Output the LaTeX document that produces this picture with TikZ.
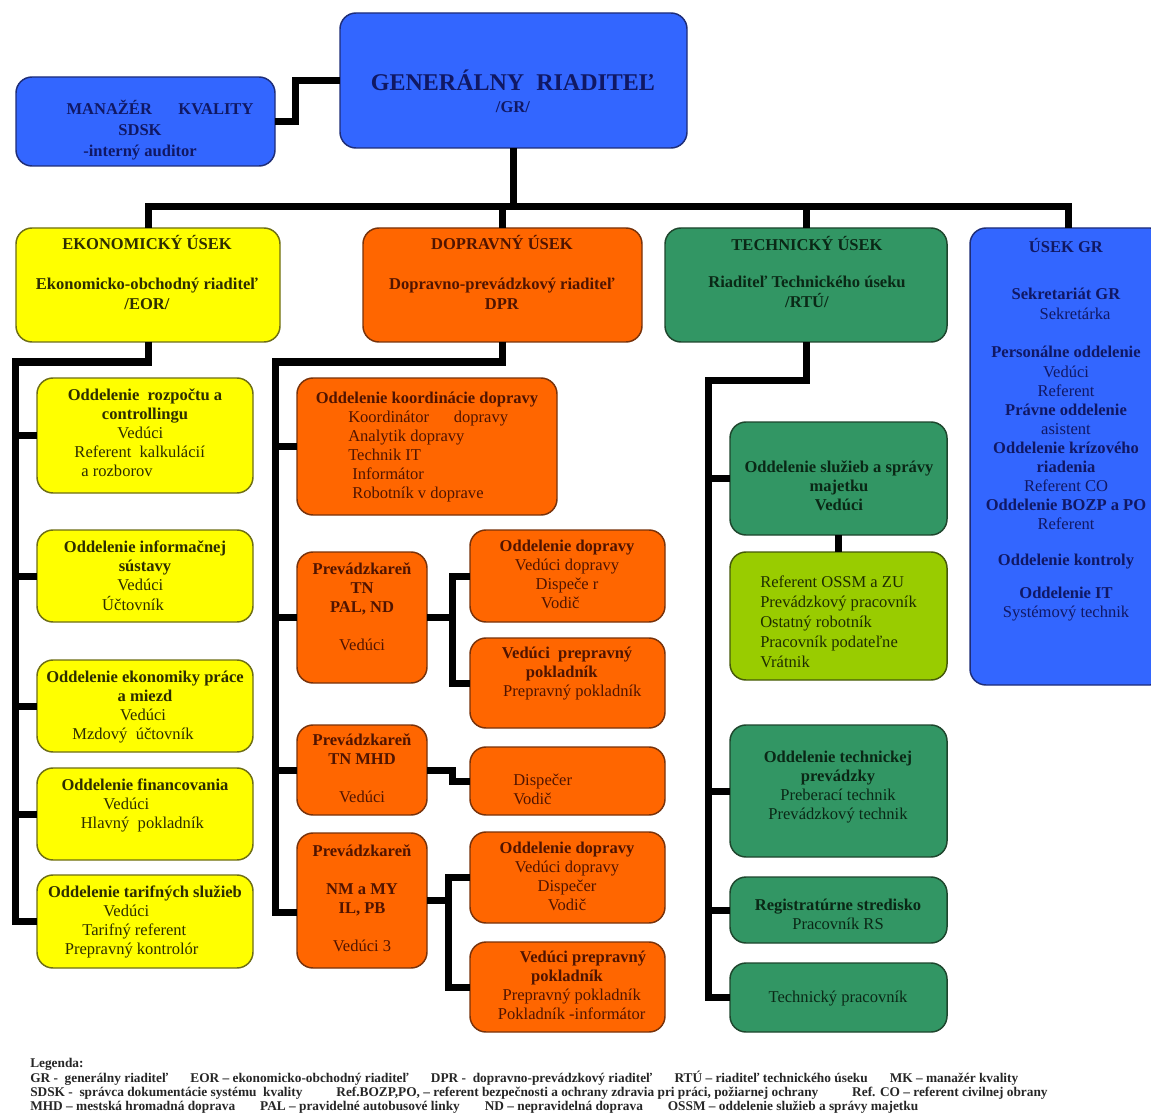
\documentclass[tikz,border=0pt]{standalone}
\usepackage{fontspec}
\setmainfont{Liberation Serif}
\usetikzlibrary{fit,calc}
\definecolor{cblue}{RGB}{51,102,255}
\definecolor{corange}{RGB}{255,102,0}
\definecolor{cgreen}{RGB}{50,150,100}
\definecolor{cyellow}{RGB}{255,255,0}
\definecolor{clime}{RGB}{153,204,0}
\definecolor{dblue}{RGB}{30,45,120}
\definecolor{dorange}{RGB}{120,50,10}
\definecolor{dgreen}{RGB}{30,70,45}
\definecolor{dyellow}{RGB}{110,110,20}
\definecolor{dlime}{RGB}{70,90,10}
\definecolor{tblue}{RGB}{16,24,100}
\definecolor{tora}{RGB}{80,20,0}
\definecolor{tgrn}{RGB}{10,40,22}
\definecolor{tyel}{RGB}{45,45,0}
\definecolor{tlime}{RGB}{30,45,0}
\newcommand\boxfont{\fontsize{12.4}{14.3}\selectfont}
\newcommand\legfont{\fontsize{10}{12}\selectfont\bfseries}
\newcommand\mlines[1]{\begin{tabular}[t]{@{}c@{}}#1\end{tabular}}
\newcommand\llines[1]{\begin{tabular}[t]{@{}l@{}}#1\end{tabular}}
\begin{document}
\begin{tikzpicture}[x=0.75pt,y=-0.75pt,
  conn/.style={line width=5.25pt, black, line join=miter},
  box/.style={rounded corners=12pt, line width=1.1pt, inner sep=0pt, outer sep=0pt},
  bluebox/.style={box, fill=cblue, draw=dblue},
  orabox/.style={box, fill=corange, draw=dorange},
  grnbox/.style={box, fill=cgreen, draw=dgreen},
  yelbox/.style={box, fill=cyellow, draw=dyellow},
  limebox/.style={box, fill=clime, draw=dlime},
  txt/.style={inner sep=0pt, anchor=base, font=\boxfont},
  ltxt/.style={txt, anchor=base west}]
\useasboundingbox (0,0) rectangle (1151,1119);
\fill[white] (0,0) rectangle (1151,1119);

% ---------- boxes ----------
\node[bluebox, fit={(16,77) (275,166)}] (mk) {};
\node[bluebox, fit={(340,13) (687,148)}] (gr) {};
\node[yelbox, fit={(16,228) (280,342)}] (eko) {};
\node[orabox, fit={(363,228) (642,342)}] (dop) {};
\node[grnbox, fit={(665,228) (947,342)}] (tech) {};
\node[bluebox, fit={(970,228) (1166,685)}] (usek) {};

\node[yelbox, fit={(37,378) (253,493)}] (e1) {};
\node[yelbox, fit={(37,530) (253,622)}] (e2) {};
\node[yelbox, fit={(37,660) (253,752)}] (e3) {};
\node[yelbox, fit={(37,768) (253,860)}] (e4) {};
\node[yelbox, fit={(37,875) (253,968)}] (e5) {};

\node[orabox, fit={(297,378) (557,515)}] (d1) {};
\node[orabox, fit={(297,552) (427,683)}] (d2) {};
\node[orabox, fit={(470,530) (665,622)}] (d2a) {};
\node[orabox, fit={(470,638) (665,728)}] (d2b) {};
\node[orabox, fit={(297,725) (427,815)}] (d3) {};
\node[orabox, fit={(470,747) (665,815)}] (d3a) {};
\node[orabox, fit={(297,833) (427,968)}] (d4) {};
\node[orabox, fit={(470,832) (665,923)}] (d4a) {};
\node[orabox, fit={(470,942) (665,1032)}] (d4b) {};

\node[grnbox, fit={(730,422) (947,535)}] (t1) {};
\node[limebox, fit={(730,552) (947,680)}] (t1b) {};
\node[grnbox, fit={(730,725) (947,857)}] (t2) {};
\node[grnbox, fit={(730,877) (947,943)}] (t3) {};
\node[grnbox, fit={(730,963) (947,1032)}] (t4) {};

% ---------- connectors ----------
\coordinate (bus) at (0,207);
\draw[conn] (eko.north) -- (eko.north |- bus) -- (usek.north |- bus) -- (usek.north);
\draw[conn] (gr.south) -- (gr.south |- bus);
\draw[conn] (dop.north) -- (dop.north |- bus);
\draw[conn] (tech.north) -- (tech.north |- bus);
\draw[conn] (mk.east) -- ++(20,0) |- (gr.west);

\coordinate (ekoL) at (15,362);
\draw[conn] (eko.south) |- (ekoL) |- (e5.west);
\foreach \n in {e1,e2,e3,e4} \draw[conn] (ekoL |- \n.west) -- (\n.west);

\coordinate (dopL) at (275,362);
\draw[conn] (dop.south) |- (dopL) |- ($(d4.west)+(0,12)$);
\foreach \n in {d1,d2,d3} \draw[conn] (dopL |- \n.west) -- (\n.west);
\draw[conn] (d2.east) -- ++(25,0) coordinate (d2x);
\draw[conn] (d2a.west) -| (d2x) |- (d2b.west);
\draw[conn] (d3.east) -- ++(25,0) |- (d3a.west);
\draw[conn] (d4.east) -- ++(21,0) coordinate (d4x);
\draw[conn] (d4a.west) -| (d4x) |- (d4b.west);

\coordinate (techL) at (708,380);
\draw[conn] (tech.south) |- (techL) |- (t4.west);
\foreach \n in {t1,t2,t3} \draw[conn] (techL |- \n.west) -- (\n.west);
\draw[conn] (t1.south) -- (t1b.north);

% ---------- texts ----------
\node[txt, font=\fontsize{12.4}{15.4}\selectfont, text=tblue] (mkt) at (140,115)
  {\mlines{\hspace*{30pt}\textbf{MANAŽÉR\hspace{1.6em}KVALITY}\\ \textbf{SDSK}\\ \textbf{-interný auditor}}};
\node[txt, font=\fontsize{18}{21}\selectfont\bfseries, text=tblue] (grt) at (513,91) {GENERÁLNY\ \ RIADITEĽ};
\node[txt, text=tblue] (grt2) at (513,113) {\textbf{/GR/}};

\node[txt, text=tyel] (ekot1) at (147,250) {\textbf{EKONOMICKÝ ÚSEK}};
\node[txt, text=tyel] (ekot2) at (147,290) {\mlines{\textbf{Ekonomicko-obchodný riaditeľ}\\ \textbf{/EOR/}}};
\node[txt, text=tora] (dopt1) at (502,250) {\textbf{DOPRAVNÝ ÚSEK}};
\node[txt, text=tora] (dopt2) at (502,290) {\mlines{\textbf{Dopravno-prevádzkový riaditeľ}\\ \textbf{DPR}}};
\node[txt, text=tgrn] (techt1) at (807,251) {\textbf{TECHNICKÝ ÚSEK}};
\node[txt, text=tgrn] (techt2) at (807,288) {\mlines{\textbf{Riaditeľ Technického úseku}\\ \textbf{/RTÚ/}}};

\node[txt, text=tblue] (u1) at (1066,253) {\textbf{ÚSEK GR}};
\node[txt, text=tblue] (u2) at (1066,300) {\mlines{\textbf{Sekretariát GR}\\ \hspace*{13.5pt}Sekretárka}};
\node[txt, text=tblue] (u3) at (1066,358) {\mlines{\textbf{Personálne oddelenie}\\ Vedúci\\ Referent\\ \textbf{Právne oddelenie}\\ asistent\\ \textbf{Oddelenie krízového}\\ \textbf{riadenia}\\ Referent CO\\ \textbf{Oddelenie BOZP a PO}\\ Referent}};
\node[txt, text=tblue] (u4) at (1066,565) {\textbf{Oddelenie kontroly}};
\node[txt, text=tblue] (u5) at (1066,598) {\mlines{\textbf{Oddelenie IT}\\ Systémový technik}};

\node[txt, text=tyel] (e1t) at (145,400) {\mlines{\textbf{Oddelenie\ \ rozpočtu a}\\ \textbf{controllingu}\\ Vedúci\hspace*{7pt}\\ Referent\ \ kalkulácií\hspace*{8pt}\\ a rozborov\hspace*{42pt}}};
\node[txt, text=tyel] (e2t) at (145,552) {\mlines{\textbf{Oddelenie informačnej}\\ \textbf{sústavy}\\ Vedúci\hspace*{7pt}\\ Účtovník\hspace*{18pt}}};
\node[txt, text=tyel] (e3t) at (145,682) {\mlines{\textbf{Oddelenie ekonomiky práce}\\ \textbf{a miezd}\\ Vedúci\hspace*{3pt}\\ Mzdový\ \ účtovník\hspace*{18pt}}};
\node[txt, text=tyel] (e4t) at (145,790) {\mlines{\textbf{Oddelenie financovania}\\ Vedúci\hspace*{28pt}\\ Hlavný\ \ pokladník\hspace*{4pt}}};
\node[txt, text=tyel] (e5t) at (145,897) {\mlines{\textbf{Oddelenie tarifných služieb}\\ Vedúci\hspace*{28pt}\\ Tarifný referent\hspace*{16pt}\\ Prepravný kontrolór\hspace*{20pt}}};

\node[txt, text=tora] (d1t) at (427,403) {\textbf{Oddelenie koordinácie dopravy}};
\node[ltxt, text=tora] (d1l) at (348,422) {\llines{Koordinátor\hspace{1.5em}dopravy\\ Analytik dopravy\\ Technik IT\\ \hspace*{3pt}Informátor\\ \hspace*{3pt}Robotník v doprave}};
\node[txt, text=tora] (d2t) at (362,574) {\mlines{\textbf{Prevádzkareň}\\ \textbf{TN}\\ \textbf{PAL, ND}\\ \\ Vedúci}};
\node[txt, text=tora] (d2at) at (567,551) {\mlines{\textbf{Oddelenie dopravy}\\ Vedúci dopravy\\ Dispeče r\\ Vodič\hspace*{10pt}}};
\node[txt, text=tora] (d2bt) at (567,658) {\mlines{\textbf{Vedúci\ \ prepravný}\\ \textbf{pokladník}\hspace*{8pt}\\ \hspace*{8pt}Prepravný pokladník}};
\node[txt, text=tora] (d3t) at (362,745) {\mlines{\textbf{Prevádzkareň}\\ \textbf{TN MHD}\\ \\ Vedúci}};
\node[ltxt, text=tora] (d3at) at (513,785) {\llines{Dispečer\\ Vodič}};
\node[txt, text=tora] (d4t) at (362,856) {\mlines{\textbf{Prevádzkareň}\\ \\ \textbf{NM a MY}\\ \textbf{IL, PB}\\ \\ Vedúci 3}};
\node[txt, text=tora] (d4at) at (567,853) {\mlines{\textbf{Oddelenie dopravy}\\ Vedúci dopravy\\ Dispečer\\ Vodič}};
\node[txt, text=tora] (d4bt) at (567,962) {\mlines{\hspace*{24pt}\textbf{Vedúci prepravný}\\ \textbf{pokladník}\\ \hspace*{7pt}Prepravný pokladník\\ \hspace*{7pt}Pokladník -informátor}};

\node[txt, text=tgrn] (t1t) at (839,472) {\mlines{\textbf{Oddelenie služieb a správy}\\ \textbf{majetku}\\ \textbf{Vedúci}}};
\node[ltxt, font=\fontsize{12.4}{15}\selectfont, text=tlime] (t1bt) at (760,587) {\llines{Referent OSSM a ZU\\ Prevádzkový pracovník\\ Ostatný robotník\\ Pracovník podateľne\\ Vrátnik}};
\node[txt, text=tgrn] (t2t) at (838,762) {\mlines{\textbf{Oddelenie technickej}\\ \textbf{prevádzky}\\ Preberací technik\\ Prevádzkový technik}};
\node[txt, text=tgrn] (t3t) at (838,910) {\mlines{\textbf{Registratúrne stredisko}\\ Pracovník RS}};
\node[txt, text=tgrn] (t4t) at (838,1002) {Technický pracovník};

% ---------- legend ----------
\node[ltxt, font=\legfont, text=black!85] (leg0) at (30,1067) {Legenda:};
\node[ltxt, font=\legfont, text=black!85] (leg1) at (30,1082) {\hbox to 741pt{GR -\ \ generálny riaditeľ\hfil EOR – ekonomicko-obchodný riaditeľ\hfil DPR -\ \ dopravno-prevádzkový riaditeľ\hfil RTÚ – riaditeľ technického úseku\hfil MK – manažér kvality}};
\node[ltxt, font=\legfont, text=black!85] (leg2) at (30,1096) {\hbox to 763pt{SDSK -\ \ správca dokumentácie systému\ \ kvality\hfil Ref.BOZP,PO, – referent bezpečnosti a ochrany zdravia pri práci, požiarnej ochrany\hfil Ref. CO – referent civilnej obrany}};
\node[ltxt, font=\legfont, text=black!85] (leg3) at (30,1110) {\hbox to 666pt{MHD – mestská hromadná doprava\hfil PAL – pravidelné autobusové linky\hfil ND – nepravidelná doprava\hfil OSSM – oddelenie služieb a správy majetku}};
\end{tikzpicture}
\end{document}
